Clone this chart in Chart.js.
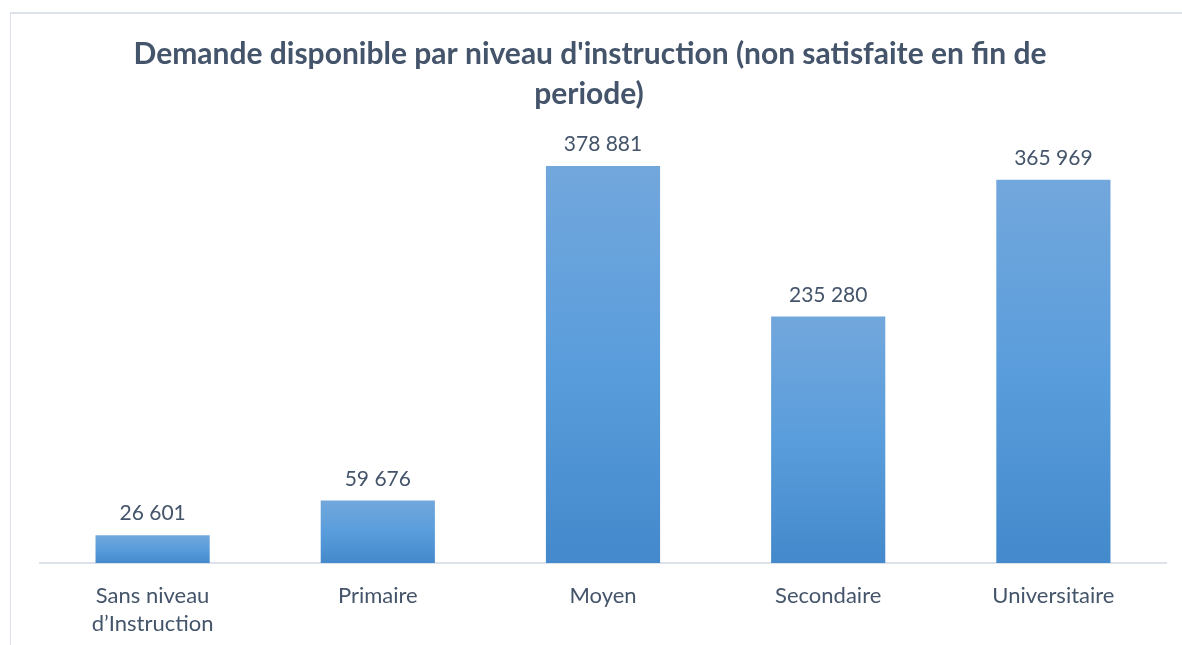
<!DOCTYPE html>
<html>
<head>
<meta charset="utf-8">
<script src="https://cdn.jsdelivr.net/npm/chart.js@4"></script>
<style>
    html, body { margin: 0; padding: 0; background: #ffffff; }
    #wrap { position: relative; width: 1182px; height: 645px; overflow: hidden; }
    #frame { position: absolute; left: 10px; top: 12px; width: 1300px; height: 800px;
             border-left: 1px solid #dde2ea; border-top: 2px solid #dde2ea; }
    canvas { position: absolute; left: 0; top: 0; }
</style>
</head>
<body>
<div id="wrap">
    <div id="frame"></div>
    <canvas id="demandeChart" width="1182" height="645"></canvas>
</div>
<script>
// chart data
const categories = [["Sans niveau", "d\u2019Instruction"], "Primaire", "Moyen", "Secondaire", "Universitaire"];
const demandeValues = [26601, 59676, 378881, 235280, 365969];
const titleLines = ["Demande disponible par niveau d'instruction (non satisfaite en fin de", "periode)"];

const textColor = '#44546a';
const labelFont = '21px Lato, "Open Sans", sans-serif';

function formatNumber(v) {
    return String(v).replace(/\B(?=(\d{3})+(?!\d))/g, ' ');
}

// title drawn by hand so it lands at the same place as the reference
const titlePlugin = {
    id: 'titleLines',
    afterDraw(chart) {
        const ctx = chart.ctx;
        ctx.save();
        ctx.fillStyle = textColor;
        ctx.font = 'bold 30px Lato, "Open Sans", sans-serif';
        ctx.textAlign = 'center';
        ctx.textBaseline = 'middle';
        ctx.fillText(titleLines[0], 590, 54);
        ctx.fillText(titleLines[1], 589, 94);
        ctx.restore();
    }
};

// value labels above each bar
const valueLabels = {
    id: 'valueLabels',
    afterDatasetsDraw(chart) {
        const ctx = chart.ctx;
        const meta = chart.getDatasetMeta(0);
        ctx.save();
        ctx.fillStyle = textColor;
        ctx.font = labelFont;
        ctx.textAlign = 'center';
        ctx.textBaseline = 'bottom';
        meta.data.forEach((bar, i) => {
            ctx.fillText(formatNumber(demandeValues[i]), bar.x, bar.y - 11);
        });
        ctx.restore();
    }
};

function barGradient(context) {
    const chart = context.chart;
    if (!chart.chartArea) return '#5b9bd5';
    const yScale = chart.scales.y;
    const top = yScale.getPixelForValue(context.parsed.y);
    const base = yScale.getPixelForValue(0);
    const g = chart.ctx.createLinearGradient(0, top, 0, base);
    g.addColorStop(0, '#72a7dc');
    g.addColorStop(0.5, '#5a9ddc');
    g.addColorStop(1, '#4389cb');
    return g;
}

const ctx = document.getElementById('demandeChart').getContext('2d');
const demandeChart = new Chart(ctx, {
    type: 'bar',
    data: {
        labels: categories,
        datasets: [{
            label: 'Demande disponible',
            data: demandeValues,
            backgroundColor: barGradient,
            categoryPercentage: 1.0,
            barPercentage: 0.507
        }]
    },
    options: {
        responsive: false,
        animation: false,
        layout: {
            padding: { left: 40, right: 16, top: 144, bottom: 0 }
        },
        plugins: {
            legend: { display: false },
            title: { display: false },
            tooltip: { enabled: false }
        },
        scales: {
            x: {
                grid: { display: false, drawTicks: false },
                border: { display: true, color: '#dde2ea', width: 2 },
                ticks: {
                    color: textColor,
                    font: { family: 'Lato, "Open Sans", sans-serif', size: 22, lineHeight: 1.27 },
                    padding: 19,
                    maxRotation: 0
                },
                afterFit(scale) { scale.height = 82; }
            },
            y: {
                display: false,
                min: 0,
                max: 400000
            }
        }
    },
    plugins: [titlePlugin, valueLabels]
});
</script>
</body>
</html>
